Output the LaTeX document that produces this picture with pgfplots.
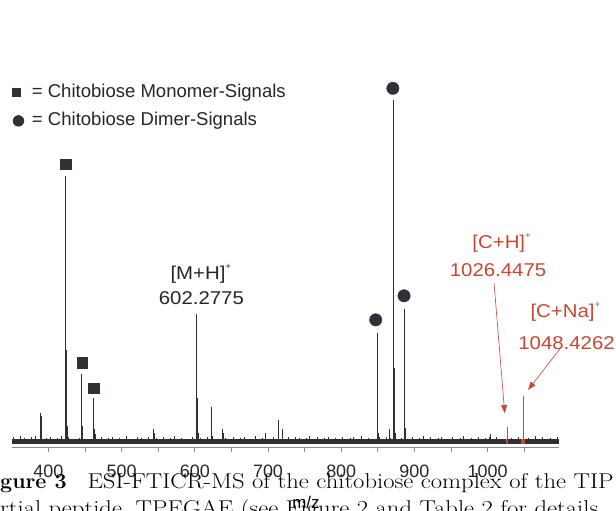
\documentclass[border=0pt]{standalone}
\usepackage{fontspec}
\newfontfamily\arial{Liberation Sans}
\usepackage{pgfplots}
\pgfplotsset{compat=1.18}
\usetikzlibrary{arrows.meta}
\definecolor{spec}{HTML}{303030}
\definecolor{mk}{HTML}{2D3138}
\definecolor{ann}{HTML}{C84634}
\definecolor{axgray}{HTML}{8A8A8A}

\begin{document}
\begin{tikzpicture}[x=1bp,y=1bp,font=\arial]
\begin{axis}[
  at={(11.7bp,64bp)}, anchor=south west,
  scale only axis, width=547bp, height=347bp,
  xmin=350, xmax=1097, ymin=-1.17, ymax=100,
  axis y line=none, axis x line=bottom,
  x axis line style={-, axgray, line width=0.9bp},
  xtick={400,500,...,1000},
  minor xtick={450,550,...,1050},
  tick align=outside, major tick length=5bp, minor tick length=5bp,
  every tick/.style={axgray, line width=0.8bp},
  /pgf/number format/assume math mode=true,
  /pgf/number format/1000 sep={},
  xticklabel style={font=\arial\fontsize{18}{18}\selectfont, text=black!85, yshift=-9.5bp},
  clip=false,
]
% noise floor
\addplot[spec, line width=5bp] coordinates {(350,0.3) (1097,0.3)};
\addplot[ycomb, spec, line width=0.5bp] coordinates {
(352,1.6)(357,1.2)(362,1.9)(367,1.4)(372,1.1)(377,1.7)(382,2.1)(387,1.3)(392,1.0)(397,1.5)
(402,1.8)(407,1.2)(412,1.4)(417,2.0)(422,1.1)(427,1.6)(432,1.3)(437,0.9)(442,1.5)(447,1.9)
(452,1.2)(457,1.0)(462,1.6)(467,1.3)(472,1.8)(477,1.1)(482,1.4)(487,1.7)(492,1.0)(497,1.5)
(502,1.2)(507,1.9)(512,1.3)(517,1.0)(522,1.6)(527,1.4)(532,1.1)(537,1.8)(542,1.3)(547,1.5)
(552,1.0)(557,1.7)(562,1.2)(567,1.4)(572,2.0)(577,1.1)(582,1.5)(587,1.3)(592,0.9)(597,1.6)
(607,1.4)(612,1.1)(617,1.7)(627,1.3)(632,1.0)(642,1.5)(647,1.2)(652,1.8)(657,1.1)(662,1.4)
(667,1.6)(672,1.0)(677,1.3)(682,1.9)(687,1.2)(692,1.5)(702,1.1)(707,1.7)(712,1.3)(722,1.0)
(727,1.6)(732,1.2)(737,1.8)(742,1.4)(747,1.1)(752,1.5)(757,2.0)(762,1.2)(767,1.6)(772,1.0)
(777,1.4)(782,1.7)(787,1.1)(792,1.5)(797,1.3)(802,1.8)(807,1.0)(812,1.4)(817,1.6)(822,1.2)
(827,1.9)(832,1.1)(837,1.5)(842,1.3)(847,1.0)(852,1.6)(857,1.2)(862,1.8)(867,1.4)(877,1.1)
(882,1.5)(892,1.3)(897,1.7)(902,1.0)(907,1.4)(912,1.9)(917,1.2)(922,1.6)(927,1.1)(932,1.5)
(937,1.8)(942,1.3)(947,1.0)(952,1.6)(957,1.2)(962,1.4)(967,1.9)(972,1.1)(977,1.5)(982,1.3)
(987,1.7)(992,1.0)(997,1.4)(1002,1.6)(1007,1.2)(1012,1.8)(1017,1.3)(1022,1.0)(1032,1.5)(1037,1.2)
(1042,1.7)(1055,1.4)(1060,1.1)(1065,1.9)(1070,1.3)(1075,1.6)(1080,1.0)(1085,1.5)(1090,1.2)(1095,1.7)
};
% spectrum peaks
\addplot[ycomb, spec, line width=0.6bp] coordinates {
(389.3,8.8)(390.0,7.8)
(423.8,77.7)(424.6,27)(425.5,5)(426.3,3)
(444.8,3)(445.6,20)(446.5,5)
(461.9,13)(462.8,4)(463.6,2.5)
(543.8,4.2)(544.7,3)
(602.2,37.6)(602.7,13)(603.2,13)(604.2,3)
(622.3,10.6)(623.2,8.7)(624.2,2)
(637.7,4)(638.6,2.8)
(696.0,3)(696.8,2.4)
(713.7,6.7)(714.6,2)
(719.2,4)(720.0,2.2)
(849.0,32)(849.8,8)(850.8,3)
(865.2,4.2)(866.0,3)
(871.3,100)(872.1,22)(873.0,8)(874.0,3)
(886.0,39)(886.8,15)(887.8,4.5)
(1004,2.5)
};
% complex peaks (red)
\addplot[ann, line width=5bp] coordinates {(1024.8,0.3) (1028.0,0.3)};
\addplot[ann, line width=5bp] coordinates {(1045.5,0.3) (1051.5,0.3)};
\addplot[ycomb, ann, line width=0.8bp] coordinates {(1026.4,4.7)(1048.4,13.7)(1049.2,5)};
% monomer / dimer marks
\addplot[only marks, mark=square*, mark size=5.3bp, mk] coordinates {
(423.6,81.3)(446.3,23.4)(461.9,16.0)};
\addplot[only marks, mark=*, mark size=6.2bp, mk] coordinates {
(870.5,103.4)(847.1,35.9)(885.8,42.9)};
% annotations
\node[anchor=base, inner sep=0, xscale=1.1, text=black!85, font=\arial\fontsize{18.6}{20}\selectfont]
  at (axis cs:604.4,47.75) {[M+H]\rlap{\raisebox{0.55em}{\fontsize{9}{9}\selectfont +}}};
\node[anchor=base, inner sep=0, xscale=1.1, text=black!85, font=\arial\fontsize{18.6}{20}\selectfont]
  at (axis cs:609,40.25) {602.2775};
\node[anchor=base, inner sep=0, xscale=1.1, text=ann, font=\arial\fontsize{18.6}{20}\selectfont]
  at (axis cs:1015.2,56.75) {[C+H]\rlap{\raisebox{0.55em}{\fontsize{9}{9}\selectfont +}}};
\node[anchor=base, inner sep=0, xscale=1.1, text=ann, font=\arial\fontsize{18.6}{20}\selectfont]
  at (axis cs:1014.2,48.65) {1026.4475};
\node[anchor=base, inner sep=0, xscale=1.1, text=ann, font=\arial\fontsize{18.6}{20}\selectfont]
  at (axis cs:1102.2,36.65) {[C+Na]\rlap{\raisebox{0.55em}{\fontsize{9}{9}\selectfont +}}};
\node[anchor=base, inner sep=0, xscale=1.1, text=ann, font=\arial\fontsize{18.6}{20}\selectfont]
  at (axis cs:1107.7,27.15) {1048.4262};
\draw[ann, line width=0.6bp, -{Triangle[width=6bp,length=8bp]}]
  (axis cs:1008.7,46.6) -- (axis cs:1023.3,8.7);
\draw[ann, line width=0.6bp, -{Triangle[width=6bp,length=8bp]}]
  (axis cs:1098.5,27.4) -- (axis cs:1055.2,15.5);
\end{axis}
% legend
\node[anchor=base west, inner sep=0, font=\arial\fontsize{18.6}{20}\selectfont, text=black!85]
  at (11.7,413.6) {\raisebox{0.3bp}{\tikz\fill[mk] (0,0) rectangle (9bp,9bp);}\hspace{11bp}= Chitobiose Monomer-Signals};
\node[anchor=base west, inner sep=0, font=\arial\fontsize{18.6}{20}\selectfont, text=black!85]
  at (12.6,385) {\raisebox{-0.6bp}{\tikz\fill[mk] (0,0) circle (5.7bp);}\hspace{7.8bp}= Chitobiose Dimer-Signals};
% axis label
\node[inner sep=0, font=\arial\fontsize{17}{17}\selectfont] at (306,9) {m/z};
% caption of the page, cut at the edges
\node[anchor=base east, inner sep=0, font=\normalfont\fontsize{21.5}{21.5}\selectfont\bfseries] at (0,22) {Fi};
\node[anchor=base west, inner sep=0, font=\normalfont\fontsize{21.5}{21.5}\selectfont\bfseries] at (0,22) {gure 3};
\node[anchor=base west, inner sep=0, xscale=1.15, font=\normalfont\fontsize{21.5}{21.5}\selectfont] at (87.3,22)
  {ESI-FTICR-MS of the chitobiose complex of the TIP};
\node[anchor=base east, inner sep=0, xscale=1.15, font=\normalfont\fontsize{21.5}{21.5}\selectfont] at (0,-5) {pa};
\node[anchor=base west, inner sep=0, xscale=1.15, font=\normalfont\fontsize{21.5}{21.5}\selectfont] at (0,-5)
  {rtial peptide, TPEGAE (see Figure 2 and Table 2 for details};
\pgfresetboundingbox
\useasboundingbox (0,0) rectangle (616,511);
\end{tikzpicture}
\end{document}
